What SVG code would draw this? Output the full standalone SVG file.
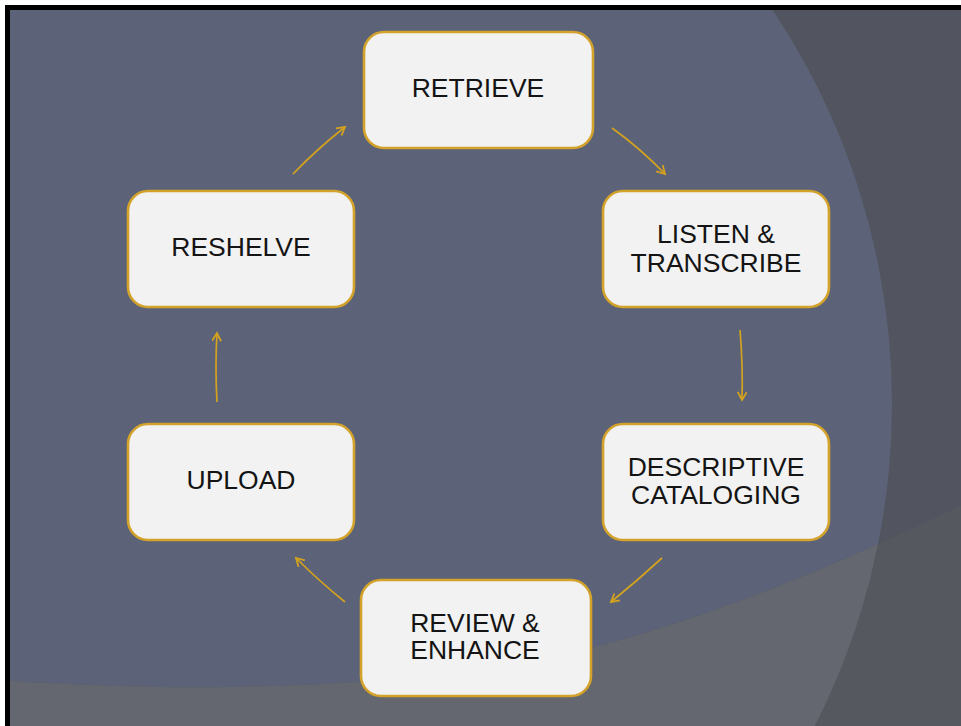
<svg xmlns="http://www.w3.org/2000/svg" width="961" height="726" viewBox="0 0 961 726">
  <defs>
    <style>
      .box { fill: #f2f2f2; stroke: #d3a22a; stroke-width: 2.6; }
      .lbl { font-family: "Liberation Sans", Arial, sans-serif; font-size: 26.5px; fill: #141414; text-anchor: middle; }
      .arr { fill: none; stroke: #d4a21e; stroke-width: 1.7; marker-end: url(#ah); }
    </style>
    <marker id="ah" markerUnits="userSpaceOnUse" markerWidth="12" markerHeight="12" refX="9" refY="5" orient="auto">
      <path d="M1,0.5 L9,5 L1,9.5" fill="none" stroke="#d4a21e" stroke-width="1.8"/>
    </marker>
    <clipPath id="frame">
      <rect x="10" y="10" width="951" height="716"/>
    </clipPath>
    <clipPath id="bigc">
      <circle cx="182" cy="404" r="710"/>
    </clipPath>
  </defs>

  <rect x="0" y="0" width="961" height="726" fill="#ffffff"/>
  <rect x="5" y="5" width="956" height="721" fill="#000000"/>

  <g id="background" clip-path="url(#frame)">
    <rect x="10" y="10" width="951" height="716" fill="#52555f"/>
    <circle cx="182" cy="404" r="710" fill="#5c6378"/>
    <path d="M0,680 C150,690 300,692 480,670 C620,652 800,585 961,505 L961,726 L0,726 Z" fill="#55585e"/>
    <path d="M0,680 C150,690 300,692 480,670 C620,652 800,585 961,505 L961,726 L0,726 Z" fill="#64676f" clip-path="url(#bigc)"/>
  </g>

  <g id="connectors">
    <path class="arr" d="M293,174 Q317,149 345,127"/>
    <path class="arr" d="M612,128 Q640,148 665,174"/>
    <path class="arr" d="M740,330 Q743,365 742,400"/>
    <path class="arr" d="M662,558 Q637,581 611,602"/>
    <path class="arr" d="M345,602 Q319,581 296,558"/>
    <path class="arr" d="M217,402 Q215,367 217,333"/>
  </g>

  <g id="retrieve">
    <rect class="box" x="364" y="32" width="229" height="116" rx="20"/>
    <text class="lbl" x="478" y="97">RETRIEVE</text>
  </g>
  <g id="listen-transcribe">
    <rect class="box" x="603" y="191" width="226" height="116" rx="20"/>
    <text class="lbl" x="716" y="243">LISTEN &amp;</text>
    <text class="lbl" x="716" y="272">TRANSCRIBE</text>
  </g>
  <g id="descriptive-cataloging">
    <rect class="box" x="603" y="424" width="226" height="116" rx="20"/>
    <text class="lbl" x="716" y="476">DESCRIPTIVE</text>
    <text class="lbl" x="716" y="504">CATALOGING</text>
  </g>
  <g id="review-enhance">
    <rect class="box" x="361" y="580" width="230" height="116" rx="20"/>
    <text class="lbl" x="475" y="632">REVIEW &amp;</text>
    <text class="lbl" x="475" y="659">ENHANCE</text>
  </g>
  <g id="upload">
    <rect class="box" x="128" y="424" width="226" height="116" rx="20"/>
    <text class="lbl" x="241" y="489">UPLOAD</text>
  </g>
  <g id="reshelve">
    <rect class="box" x="128" y="191" width="226" height="116" rx="20"/>
    <text class="lbl" x="241" y="256">RESHELVE</text>
  </g>
</svg>
